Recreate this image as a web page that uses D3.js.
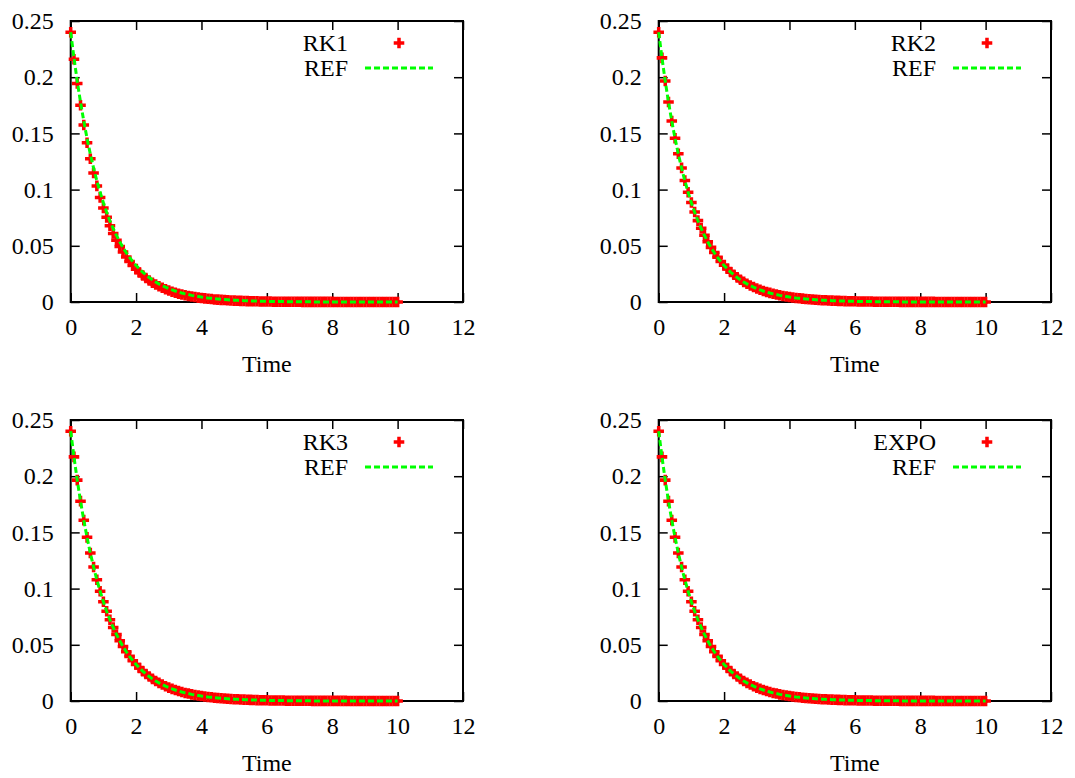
<!DOCTYPE html>
<html>
<head>
<meta charset="utf-8">
<script src="https://cdn.jsdelivr.net/npm/d3@7"></script>
<style>
    body { margin: 0; background: #fff; }
    text { font-family: "Liberation Serif", "Times New Roman", serif; font-size: 24px; fill: #000; }
</style>
</head>
<body>
<div id="chart"></div>
<script>
// data (time step 0.1)
var times = [0, 0.1, 0.2, 0.3, 0.4, 0.5, 0.6, 0.7, 0.8, 0.9,
    1, 1.1, 1.2, 1.3, 1.4, 1.5, 1.6, 1.7, 1.8, 1.9,
    2, 2.1, 2.2, 2.3, 2.4, 2.5, 2.6, 2.7, 2.8, 2.9,
    3, 3.1, 3.2, 3.3, 3.4, 3.5, 3.6, 3.7, 3.8, 3.9,
    4, 4.1, 4.2, 4.3, 4.4, 4.5, 4.6, 4.7, 4.8, 4.9,
    5, 5.1, 5.2, 5.3, 5.4, 5.5, 5.6, 5.7, 5.8, 5.9,
    6, 6.1, 6.2, 6.3, 6.4, 6.5, 6.6, 6.7, 6.8, 6.9,
    7, 7.1, 7.2, 7.3, 7.4, 7.5, 7.6, 7.7, 7.8, 7.9,
    8, 8.1, 8.2, 8.3, 8.4, 8.5, 8.6, 8.7, 8.8, 8.9,
    9, 9.1, 9.2, 9.3, 9.4, 9.5, 9.6, 9.7, 9.8, 9.9,
    10];

var rk1Values = [0.24, 0.216, 0.1944, 0.175, 0.1575, 0.1417, 0.1275, 0.1148, 0.1033, 0.093,
    0.0837, 0.0753, 0.0678, 0.061, 0.0549, 0.0494, 0.0445, 0.04, 0.036, 0.0324,
    0.0292, 0.0263, 0.0236, 0.0213, 0.0191, 0.0172, 0.0155, 0.014, 0.0126, 0.0113,
    0.0102, 0.0092, 0.0082, 0.0074, 0.0067, 0.006, 0.0054, 0.0049, 0.0044, 0.0039,
    0.0035, 0.0032, 0.0029, 0.0026, 0.0023, 0.0021, 0.0019, 0.0017, 0.0015, 0.0014,
    0.0012, 0.0011, 0.001, 0.0009, 0.0008, 0.0007, 0.0007, 0.0006, 0.0005, 0.0005,
    0.0004, 0.0004, 0.0003, 0.0003, 0.0003, 0.0003, 0.0002, 0.0002, 0.0002, 0.0002,
    0.0002, 0.0001, 0.0001, 0.0001, 0.0001, 0.0001, 0.0001, 0.0001, 0.0001, 0.0001,
    0.0001, 0, 0, 0, 0, 0, 0, 0, 0, 0,
    0, 0, 0, 0, 0, 0, 0, 0, 0, 0,
    0];

var rk2Values = [0.24, 0.2172, 0.1966, 0.1779, 0.161, 0.1457, 0.1319, 0.1193, 0.108, 0.0977,
    0.0885, 0.08, 0.0724, 0.0656, 0.0593, 0.0537, 0.0486, 0.044, 0.0398, 0.036,
    0.0326, 0.0295, 0.0267, 0.0242, 0.0219, 0.0198, 0.0179, 0.0162, 0.0147, 0.0133,
    0.012, 0.0109, 0.0098, 0.0089, 0.0081, 0.0073, 0.0066, 0.006, 0.0054, 0.0049,
    0.0044, 0.004, 0.0036, 0.0033, 0.003, 0.0027, 0.0024, 0.0022, 0.002, 0.0018,
    0.0016, 0.0015, 0.0013, 0.0012, 0.0011, 0.001, 0.0009, 0.0008, 0.0007, 0.0007,
    0.0006, 0.0005, 0.0005, 0.0004, 0.0004, 0.0004, 0.0003, 0.0003, 0.0003, 0.0002,
    0.0002, 0.0002, 0.0002, 0.0002, 0.0001, 0.0001, 0.0001, 0.0001, 0.0001, 0.0001,
    0.0001, 0.0001, 0.0001, 0.0001, 0.0001, 0, 0, 0, 0, 0,
    0, 0, 0, 0, 0, 0, 0, 0, 0, 0,
    0];

var rk3Values = [0.24, 0.2172, 0.1965, 0.1778, 0.1609, 0.1456, 0.1317, 0.1192, 0.1078, 0.0976,
    0.0883, 0.0799, 0.0723, 0.0654, 0.0592, 0.0536, 0.0485, 0.0438, 0.0397, 0.0359,
    0.0325, 0.0294, 0.0266, 0.0241, 0.0218, 0.0197, 0.0178, 0.0161, 0.0146, 0.0132,
    0.0119, 0.0108, 0.0098, 0.0089, 0.008, 0.0072, 0.0066, 0.0059, 0.0054, 0.0049,
    0.0044, 0.004, 0.0036, 0.0033, 0.0029, 0.0027, 0.0024, 0.0022, 0.002, 0.0018,
    0.0016, 0.0015, 0.0013, 0.0012, 0.0011, 0.001, 0.0009, 0.0008, 0.0007, 0.0007,
    0.0006, 0.0005, 0.0005, 0.0004, 0.0004, 0.0004, 0.0003, 0.0003, 0.0003, 0.0002,
    0.0002, 0.0002, 0.0002, 0.0002, 0.0001, 0.0001, 0.0001, 0.0001, 0.0001, 0.0001,
    0.0001, 0.0001, 0.0001, 0.0001, 0.0001, 0, 0, 0, 0, 0,
    0, 0, 0, 0, 0, 0, 0, 0, 0, 0,
    0];

var expoValues = [0.24, 0.2172, 0.1965, 0.1778, 0.1609, 0.1456, 0.1317, 0.1192, 0.1078, 0.0976,
    0.0883, 0.0799, 0.0723, 0.0654, 0.0592, 0.0536, 0.0485, 0.0438, 0.0397, 0.0359,
    0.0325, 0.0294, 0.0266, 0.0241, 0.0218, 0.0197, 0.0178, 0.0161, 0.0146, 0.0132,
    0.0119, 0.0108, 0.0098, 0.0089, 0.008, 0.0072, 0.0066, 0.0059, 0.0054, 0.0049,
    0.0044, 0.004, 0.0036, 0.0033, 0.0029, 0.0027, 0.0024, 0.0022, 0.002, 0.0018,
    0.0016, 0.0015, 0.0013, 0.0012, 0.0011, 0.001, 0.0009, 0.0008, 0.0007, 0.0007,
    0.0006, 0.0005, 0.0005, 0.0004, 0.0004, 0.0004, 0.0003, 0.0003, 0.0003, 0.0002,
    0.0002, 0.0002, 0.0002, 0.0002, 0.0001, 0.0001, 0.0001, 0.0001, 0.0001, 0.0001,
    0.0001, 0.0001, 0.0001, 0.0001, 0.0001, 0, 0, 0, 0, 0,
    0, 0, 0, 0, 0, 0, 0, 0, 0, 0,
    0];

// reference solution, same time grid
var refValues = [0.24, 0.2172, 0.1965, 0.1778, 0.1609, 0.1456, 0.1317, 0.1192, 0.1078, 0.0976,
    0.0883, 0.0799, 0.0723, 0.0654, 0.0592, 0.0536, 0.0485, 0.0438, 0.0397, 0.0359,
    0.0325, 0.0294, 0.0266, 0.0241, 0.0218, 0.0197, 0.0178, 0.0161, 0.0146, 0.0132,
    0.0119, 0.0108, 0.0098, 0.0089, 0.008, 0.0072, 0.0066, 0.0059, 0.0054, 0.0049,
    0.0044, 0.004, 0.0036, 0.0033, 0.0029, 0.0027, 0.0024, 0.0022, 0.002, 0.0018,
    0.0016, 0.0015, 0.0013, 0.0012, 0.0011, 0.001, 0.0009, 0.0008, 0.0007, 0.0007,
    0.0006, 0.0005, 0.0005, 0.0004, 0.0004, 0.0004, 0.0003, 0.0003, 0.0003, 0.0002,
    0.0002, 0.0002, 0.0002, 0.0002, 0.0001, 0.0001, 0.0001, 0.0001, 0.0001, 0.0001,
    0.0001, 0.0001, 0.0001, 0.0001, 0.0001, 0, 0, 0, 0, 0,
    0, 0, 0, 0, 0, 0, 0, 0, 0, 0,
    0];

var methodNames = ["RK1", "RK2", "RK3", "EXPO"];
var methodValues = [rk1Values, rk2Values, rk3Values, expoValues];
var refName = "REF";
var xTicks = [0, 2, 4, 6, 8, 10, 12];
var yTicks = [0, 0.05, 0.1, 0.15, 0.2, 0.25];
var xLabel = "Time";

// layout
var svgWidth = 1075;
var svgHeight = 778;
var panelW = 392.3;
var panelH = 281;
var origins = [[70.7, 21], [658.7, 21], [70.7, 420], [658.7, 420]];

var svg = d3.select("#chart")
    .append("svg")
    .attr("width", svgWidth)
    .attr("height", svgHeight);

var xScale = d3.scaleLinear().domain([0, 12]).range([0, panelW]);
var yScale = d3.scaleLinear().domain([0, 0.25]).range([panelH, 0]);

var refData = times.map((t, i) => ({ t: t, v: refValues[i] }));
var cross = d3.symbol().type(d3.symbolCross).size(62);

methodNames.forEach(function(name, i) {
    var g = svg.append("g")
        .attr("transform", `translate(${origins[i][0]}, ${origins[i][1]})`);

    // axes: labelled bottom/left, mirrored ticks top/right
    g.append("g")
        .attr("class", "axis")
        .attr("transform", `translate(0, ${panelH})`)
        .call(d3.axisBottom(xScale).tickValues(xTicks).tickSize(-9).tickPadding(16).tickFormat(d => d));
    g.append("g")
        .attr("class", "axis")
        .call(d3.axisTop(xScale).tickValues(xTicks).tickSize(-9).tickFormat(""));
    g.append("g")
        .attr("class", "axis")
        .call(d3.axisLeft(yScale).tickValues(yTicks).tickSize(-9).tickPadding(17).tickFormat(d => d));
    g.append("g")
        .attr("class", "axis")
        .attr("transform", `translate(${panelW}, 0)`)
        .call(d3.axisRight(yScale).tickValues(yTicks).tickSize(-9).tickFormat(""));

    g.selectAll(".axis .domain").remove();
    g.selectAll(".axis line").attr("stroke", "#000").attr("stroke-width", 1.5);

    g.append("rect")
        .attr("width", panelW)
        .attr("height", panelH)
        .attr("fill", "none")
        .attr("stroke", "#000")
        .attr("stroke-width", 2);

    // method points
    var pts = times.map((t, j) => ({ t: t, v: methodValues[i][j] }));
    g.selectAll(".pt")
        .data(pts)
        .enter()
        .append("path")
        .attr("class", "pt")
        .attr("d", cross)
        .attr("transform", d => `translate(${xScale(d.t)}, ${yScale(d.v)})`)
        .attr("fill", "#ff0000");

    // reference line on top
    var line = d3.line().x(d => xScale(d.t)).y(d => yScale(d.v));
    g.append("path")
        .datum(refData)
        .attr("d", line)
        .attr("fill", "none")
        .attr("stroke", "#00ff00")
        .attr("stroke-width", 3)
        .attr("stroke-dasharray", "6,3");

    // key
    g.append("text")
        .attr("x", 277.3)
        .attr("y", 22)
        .attr("dy", "0.35em")
        .attr("text-anchor", "end")
        .text(name);
    g.append("path")
        .attr("d", cross)
        .attr("transform", "translate(328.3, 22)")
        .attr("fill", "#ff0000");
    g.append("text")
        .attr("x", 277.3)
        .attr("y", 47)
        .attr("dy", "0.35em")
        .attr("text-anchor", "end")
        .text(refName);
    g.append("line")
        .attr("x1", 294.3)
        .attr("x2", 362.3)
        .attr("y1", 47)
        .attr("y2", 47)
        .attr("stroke", "#00ff00")
        .attr("stroke-width", 3)
        .attr("stroke-dasharray", "6,3");

    // x label
    g.append("text")
        .attr("x", panelW / 2)
        .attr("y", 351)
        .attr("text-anchor", "middle")
        .text(xLabel);
});
</script>
</body>
</html>
